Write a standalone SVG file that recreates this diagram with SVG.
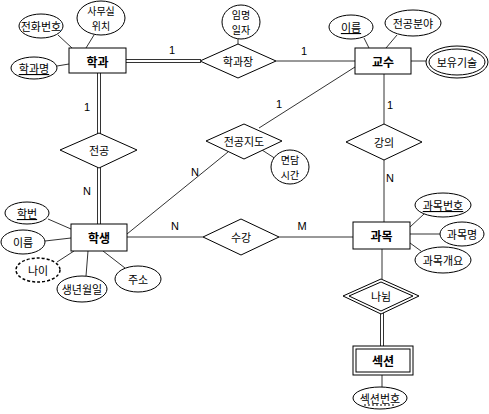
<svg xmlns="http://www.w3.org/2000/svg" width="489" height="414" viewBox="0 0 489 414">
<style>
text{font-family:"Noto Sans CJK KR","Noto Sans",sans-serif;font-size:11px;fill:#000;text-anchor:middle;dominant-baseline:central}
.ent text{font-weight:bold;font-size:12px}
text.t{font-size:10px}
rect,ellipse,polygon{fill:#fff;stroke:#000;stroke-width:1}
.dash{stroke-dasharray:3,2;stroke-width:1.5}
#connectors line{stroke:#333;stroke-width:1}
.lbl{font-family:"Liberation Sans",Arial,sans-serif;font-size:11px}
.u{text-decoration:underline}
</style>
<g id="connectors">
<line x1="126" y1="59.5" x2="201" y2="59.5"/><line x1="126" y1="62.5" x2="201" y2="62.5"/>
<line x1="276" y1="61" x2="355" y2="61"/>
<line x1="97.5" y1="73" x2="97.5" y2="134"/><line x1="100.5" y1="73" x2="100.5" y2="134"/>
<line x1="97.5" y1="167" x2="97.5" y2="224"/><line x1="100.5" y1="167" x2="100.5" y2="224"/>
<line x1="384" y1="74" x2="384" y2="124"/>
<line x1="384" y1="160" x2="384" y2="222"/>
<line x1="127" y1="237" x2="203" y2="237"/>
<line x1="279" y1="237" x2="353" y2="237"/>
<line x1="259" y1="128" x2="355" y2="67"/>
<line x1="228" y1="152" x2="127" y2="234"/>
<line x1="262" y1="150" x2="276" y2="159"/>
<line x1="238" y1="39" x2="238" y2="44"/>
<line x1="382" y1="249" x2="382" y2="279"/>
<line x1="380.5" y1="313" x2="380.5" y2="346"/><line x1="383.5" y1="313" x2="383.5" y2="346"/>
<line x1="382" y1="375" x2="382" y2="387"/>
<line x1="58" y1="35" x2="72" y2="48"/>
<line x1="94" y1="35" x2="86" y2="48"/>
<line x1="57" y1="66" x2="69" y2="64"/>
<line x1="364" y1="38" x2="369" y2="48"/>
<line x1="397" y1="35" x2="386" y2="48"/>
<line x1="411" y1="61" x2="426" y2="61"/>
<line x1="410" y1="227" x2="424" y2="214"/>
<line x1="410" y1="234" x2="440" y2="234"/>
<line x1="410" y1="243" x2="421" y2="251"/>
<line x1="48" y1="219" x2="71" y2="229"/>
<line x1="45" y1="241" x2="71" y2="238"/>
<line x1="57" y1="262" x2="74" y2="251"/>
<line x1="88" y1="251" x2="86" y2="276"/>
<line x1="103" y1="251" x2="125" y2="268"/>
</g>
<g id="labels">
<text class="lbl" x="172" y="50">1</text>
<text class="lbl" x="304" y="51">1</text>
<text class="lbl" x="87" y="107">1</text>
<text class="lbl" x="87" y="191">N</text>
<text class="lbl" x="279" y="104">1</text>
<text class="lbl" x="195" y="172">N</text>
<text class="lbl" x="390" y="105">1</text>
<text class="lbl" x="390" y="178">N</text>
<text class="lbl" x="175" y="226">N</text>
<text class="lbl" x="302" y="226">M</text>
</g>
<g id="학과" class="ent"><rect x="69" y="48" width="57" height="25"/><text x="97.5" y="61">학과</text></g>
<g id="교수" class="ent"><rect x="355" y="48" width="56" height="26"/><text x="383" y="61">교수</text></g>
<g id="학생" class="ent"><rect x="71" y="224" width="56" height="27"/><text x="99" y="237.5">학생</text></g>
<g id="과목" class="ent"><rect x="353" y="222" width="57" height="27"/><text x="381.5" y="235.5">과목</text></g>
<g id="섹션" class="ent"><rect x="353" y="346" width="60" height="29"/><rect x="356" y="349" width="54" height="23"/><text x="383" y="360.5">섹션</text></g>
<g id="학과장"><polygon points="200,61 238,44 276,61 238,78"/><text x="238" y="61">학과장</text></g>
<g id="전공"><polygon points="60,150 99,133 137,150 99,168"/><text x="99" y="150">전공</text></g>
<g id="전공지도"><polygon points="206,141 244,124 282,141 244,159"/><text x="244" y="141">전공지도</text></g>
<g id="강의"><polygon points="346,142 384,124 422,142 384,160"/><text x="384" y="142">강의</text></g>
<g id="수강"><polygon points="203,237 241,219 279,237 241,255"/><text x="241" y="237">수강</text></g>
<g id="나뉨"><polygon points="343,296 381,279 419,296 381,314"/><polygon points="349,296 381,282 413,296 381,311"/><text x="381" y="296">나뉨</text></g>
<g id="전화번호"><ellipse cx="41" cy="26" rx="22" ry="12"/><text x="41" y="26">전화번호</text></g>
<g id="사무실위치"><ellipse cx="101" cy="18" rx="24" ry="17"/><text class="t" x="101" y="10.5">사무실</text><text class="t" x="101" y="25.5">위치</text></g>
<g id="학과명"><ellipse cx="34" cy="68" rx="23" ry="11"/><text class="u" x="34" y="68">학과명</text></g>
<g id="임명일자"><ellipse cx="241" cy="22" rx="19" ry="17"/><text class="t" x="241" y="14.5">임명</text><text class="t" x="241" y="29.5">일자</text></g>
<g id="교수이름"><ellipse cx="351" cy="27" rx="22" ry="12"/><text class="u" x="351" y="27">이름</text></g>
<g id="전공분야"><ellipse cx="413" cy="23" rx="28" ry="13"/><text x="413" y="23">전공분야</text></g>
<g id="보유기술"><ellipse cx="457" cy="62" rx="31" ry="16"/><ellipse cx="457" cy="62" rx="28" ry="13"/><text x="457" y="62">보유기술</text></g>
<g id="면담시간"><ellipse cx="290" cy="167" rx="19" ry="17"/><text class="t" x="290" y="159.5">면담</text><text class="t" x="290" y="174.5">시간</text></g>
<g id="학번"><ellipse cx="27" cy="213" rx="22" ry="11"/><text class="u" x="27" y="213">학번</text></g>
<g id="학생이름"><ellipse cx="23" cy="242" rx="22" ry="12"/><text x="23" y="242">이름</text></g>
<g id="나이"><ellipse class="dash" cx="38" cy="270" rx="22" ry="12"/><text x="38" y="270">나이</text></g>
<g id="생년월일"><ellipse cx="82" cy="289" rx="25" ry="13"/><text x="82" y="289">생년월일</text></g>
<g id="주소"><ellipse cx="138" cy="279" rx="23" ry="13"/><text x="138" y="279">주소</text></g>
<g id="과목번호"><ellipse cx="443" cy="205" rx="28" ry="12"/><text class="u" x="443" y="205">과목번호</text></g>
<g id="과목명"><ellipse cx="462" cy="234" rx="22" ry="12"/><text x="462" y="234">과목명</text></g>
<g id="과목개요"><ellipse cx="443" cy="260" rx="28" ry="13"/><text x="443" y="260">과목개요</text></g>
<g id="섹션번호"><ellipse cx="380" cy="398" rx="27" ry="11"/><text x="380" y="398">섹션번호</text><line x1="364" y1="405" x2="396" y2="405" stroke="#000" stroke-dasharray="2,2"/></g>
</svg>
